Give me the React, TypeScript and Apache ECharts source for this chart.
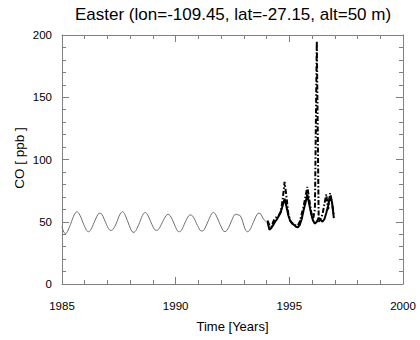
import React, { useEffect, useRef } from "react";
import * as echarts from "echarts";

const TITLE = "Easter (lon=-109.45, lat=-27.15, alt=50 m)";
const X_NAME = "Time [Years]";
const Y_NAME = "CO [ ppb ]";

// Monthly modelled CO (thin grey), starting 1985.0
const GREY_START = 1985;
const greyValues: number[] = [
  46, 41.5, 40.5, 42.5, 46, 50, 54, 57, 58, 56.5, 53.5, 49.5,
  46, 43, 42, 43, 46, 49.5, 53, 56, 57, 56, 53, 49.5,
  46, 43.5, 43, 44, 46.5, 50, 54, 57, 58, 56.5, 53, 49,
  45, 42, 41.5, 43, 46, 49.5, 53.5, 56.5, 57.5, 56, 53, 49.5,
  46, 43.5, 43, 44, 46.5, 49.5, 52.5, 55, 56, 55, 52.5, 49,
  45.5, 42.5, 42, 43, 46, 49.5, 52.5, 55, 55.5, 54.5, 52, 48.5,
  45.5, 43, 42.5, 43.5, 46.5, 50, 53.5, 56.5, 57.5, 56, 53, 49.5,
  46, 43, 42, 43, 45.5, 49, 52.5, 55.5, 56, 55.5, 55, 52,
  47, 43, 42, 43, 46, 49.5, 53, 56, 57, 56, 53, 51,
  50,
];

// Monthly (mid-month) black series, starting 1994
const BLACK_START = 1994;
const solidValues: number[] = [
  50, 43.5, 45, 47.5, 50, 52, 55, 58, 63, 68.5, 62, 55,
  50.5, 48.5, 47.5, 46, 45.5, 47.5, 52, 59, 65, 72, 64, 56.5,
  51, 48.5, 50, 53, 51.5, 50, 52, 57, 63, 70.5, 66, 53,
];
const dashDotValues: number[] = [
  51, 47, 46, 50, 53, 54, 55, 58, 68, 82, 70, 56,
  51, 49, 48, 47, 47, 50, 56, 62, 70, 78, 68, 58,
  52, 60, 195, 50, 52, 56, 64, 72, 60, 73, 66, 55,
];

const X_TICKS = [1985, 1990, 1995, 2000];
const Y_TICKS = [0, 50, 100, 150, 200];

export default function App() {
  const ref = useRef<HTMLDivElement>(null);
  useEffect(() => {
    if (!ref.current) return;
    const chart = echarts.init(ref.current, undefined, { renderer: "svg" });
    const grey = greyValues.map((v, i) => [GREY_START + i / 12, v]);
    const solid = solidValues.map((v, i) => [BLACK_START + (i + 0.5) / 12, v]);
    const dashDot = dashDotValues.map((v, i) => [BLACK_START + (i + 0.5) / 12, v]);
    const font = "Liberation Sans, Arial, Helvetica, sans-serif";
    const axisColor = "#808080";
    const common = {
      axisLine: { show: true, onZero: false, lineStyle: { color: axisColor, width: 1 } },
      axisTick: { show: true, inside: true, length: 7, lineStyle: { color: axisColor } },
      minorTick: { show: true, splitNumber: 5, length: 4, lineStyle: { color: axisColor } },
      splitLine: { show: false },
    };
    chart.setOption({
      animation: false,
      backgroundColor: "#ffffff",
      title: {
        text: TITLE,
        left: 75,
        top: 6,
        padding: 0,
        textStyle: { fontFamily: font, fontSize: 17, fontWeight: "normal", color: "#000" },
      },
      grid: { left: 62, right: 17, top: 35, bottom: 56, containLabel: false },
      xAxis: [
        {
          ...common,
          type: "value",
          position: "bottom",
          min: X_TICKS[0],
          max: X_TICKS[X_TICKS.length - 1],
          interval: 5,
          name: X_NAME,
          nameLocation: "middle",
          nameGap: 36,
          nameTextStyle: { fontFamily: font, fontSize: 13, color: "#000" },
          axisLabel: {
            fontFamily: font,
            fontSize: 11.5,
            color: "#000",
            margin: 16,
            formatter: (v: number) => String(v),
          },
        },
        {
          ...common,
          type: "value",
          position: "top",
          min: X_TICKS[0],
          max: X_TICKS[X_TICKS.length - 1],
          interval: 5,
          axisLabel: { show: false },
        },
      ],
      yAxis: [
        {
          ...common,
          type: "value",
          position: "left",
          min: Y_TICKS[0],
          max: Y_TICKS[Y_TICKS.length - 1],
          interval: 50,
          axisLabel: { fontFamily: font, fontSize: 11.5, color: "#000", margin: 10 },
        },
        {
          ...common,
          type: "value",
          position: "right",
          min: Y_TICKS[0],
          max: Y_TICKS[Y_TICKS.length - 1],
          interval: 50,
          axisLabel: { show: false },
        },
      ],
      graphic: [
        {
          type: "text",
          x: 19,
          y: 158,
          rotation: Math.PI / 2,
          style: {
            text: Y_NAME,
            fontFamily: font,
            fontSize: 13.5,
            fill: "#000",
            align: "center",
            verticalAlign: "middle",
          },
        },
      ],
      series: [
        {
          type: "line",
          data: grey,
          showSymbol: false,
          smooth: 0.3,
          lineStyle: { color: "#6e6e6e", width: 1 },
          z: 2,
        },
        {
          type: "line",
          data: solid,
          showSymbol: false,
          lineStyle: { color: "#000", width: 2 },
          z: 3,
        },
        {
          type: "line",
          data: dashDot,
          showSymbol: false,
          lineStyle: { color: "#000", width: 2, type: [5, 2, 1.5, 2] },
          z: 4,
        },
      ],
    });
    return () => chart.dispose();
  }, []);
  return (
    <div
      ref={ref}
      style={{ position: "fixed", left: 0, top: 0, width: 420, height: 340 }}
    />
  );
}
